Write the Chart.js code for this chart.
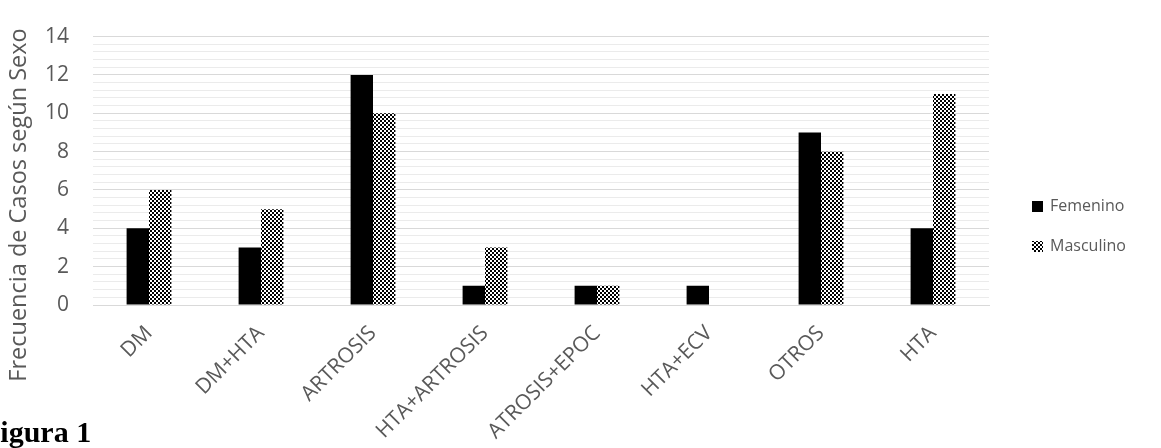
<!DOCTYPE html>
<html>
<head>
<meta charset="utf-8">
<script src="https://cdn.jsdelivr.net/npm/chart.js@4.4.0/dist/chart.umd.min.js"></script>
<style>
  html, body { margin: 0; padding: 0; background: #fff; overflow: hidden; }
  #wrap { position: relative; width: 1161px; height: 448px; }
  #fig { position: absolute; left: -18px; top: 417px; line-height: 30px; font-family: "Liberation Serif", serif; font-weight: bold; font-size: 30px; color: #000; white-space: nowrap; }
</style>
</head>
<body>
<div id="wrap">
  <canvas id="myChart" width="1161" height="448"></canvas>
  <div id="fig">Figura 1</div>
</div>
<script>
// data
let categories = ["DM", "DM+HTA", "ARTROSIS", "HTA+ARTROSIS", "ATROSIS+EPOC", "HTA+ECV", "OTROS", "HTA"]
let femenino = [4, 3, 12, 1, 1, 1, 9, 4]
let masculino = [6, 5, 10, 3, 1, 0, 8, 11]
let yTicks = [0, 2, 4, 6, 8, 10, 12, 14]
let yTitle = "Frecuencia de Casos según Sexo"

let gray = "#595959"

// checker pattern for Masculino
function makeChecker() {
  let c = document.createElement("canvas")
  c.width = 4
  c.height = 4
  let p = c.getContext("2d")
  p.fillStyle = "#fff"
  p.fillRect(0, 0, 4, 4)
  p.fillStyle = "#000"
  p.fillRect(0, 0, 2, 2)
  p.fillRect(2, 2, 2, 2)
  return document.getElementById("myChart").getContext("2d").createPattern(c, "repeat")
}
let checker = makeChecker()

function isMajor(v) {
  return yTicks.some(t => Math.abs(t - v) < 1e-6)
}

// legend on the right + y title (drawn lower than the plot centre, like the original)
const extras = {
  id: "extras",
  afterDraw(chart) {
    let ctx = chart.ctx
    ctx.save()
    ctx.font = "16px 'Open Sans'"
    ctx.textBaseline = "middle"
    chart.data.datasets.forEach((ds, i) => {
      let y = 206 + i * 40
      ctx.fillStyle = ds.backgroundColor
      ctx.fillRect(1032, y - 5, 11, 11)
      ctx.fillStyle = gray
      ctx.fillText(ds.label, 1050, y)
    })

    ctx.translate(19, 205)
    ctx.rotate(-Math.PI / 2)
    ctx.font = "23.5px 'Open Sans'"
    ctx.textAlign = "center"
    ctx.fillStyle = gray
    ctx.fillText(yTitle, 0, 0)
    ctx.restore()
  }
}

let ctx = document.getElementById("myChart").getContext("2d")
let chart = new Chart(ctx, {
  type: "bar",
  data: {
    labels: categories,
    datasets: [{
      label: "Femenino",
      backgroundColor: "#000",
      data: femenino
    }, {
      label: "Masculino",
      backgroundColor: checker,
      data: masculino
    }]
  },
  options: {
    responsive: false,
    animation: false,
    categoryPercentage: 0.4,
    barPercentage: 1.0,
    layout: { padding: { top: 17, right: 172, left: 0, bottom: 0 } },
    plugins: {
      legend: { display: false },
      tooltip: { enabled: false }
    },
    scales: {
      x: {
        afterFit(scale) { scale.height = 143 },
        grid: { display: false },
        border: { color: "#d9d9d9", width: 1 },
        ticks: {
          color: gray,
          font: { family: "'Open Sans'", size: 21 },
          minRotation: 45,
          maxRotation: 45,
          padding: 8,
          autoSkip: false
        }
      },
      y: {
        min: 0,
        max: 14,
        afterFit(scale) { scale.width = 93 },
        border: { display: false },
        grid: {
          color: c => isMajor(c.tick.value) ? "#d9d9d9" : "#ebebeb",
          lineWidth: 1,
          drawTicks: false
        },
        ticks: {
          stepSize: 0.4,
          autoSkip: false,
          padding: 24,
          color: gray,
          font: { family: "'Open Sans'", size: 21 },
          callback: v => isMajor(v) ? Math.round(v) : ""
        }
      }
    }
  },
  plugins: [extras]
})
</script>
</body>
</html>
